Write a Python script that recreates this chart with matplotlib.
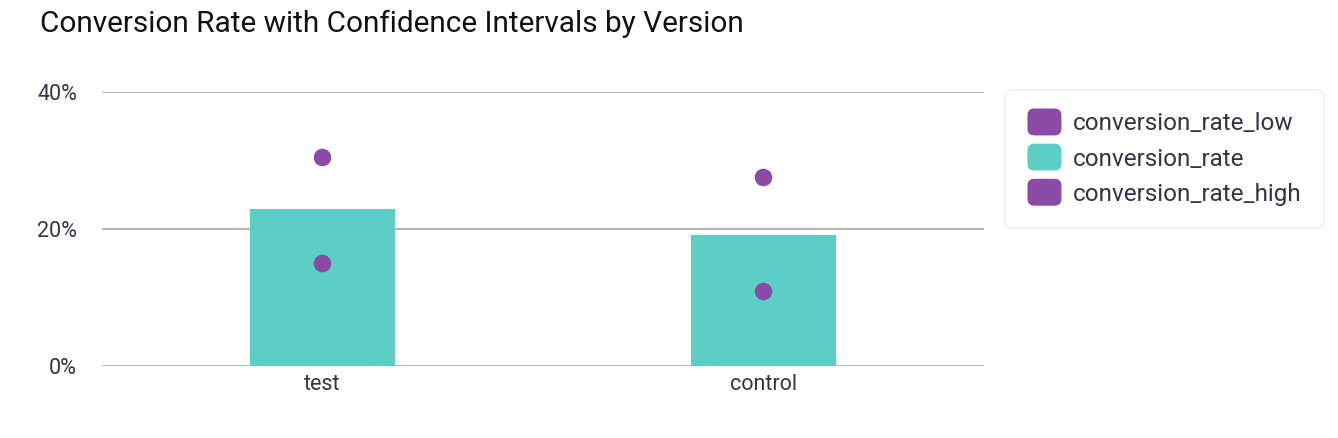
import matplotlib
matplotlib.use("Agg")
import matplotlib.pyplot as plt
from matplotlib.patches import FancyBboxPatch, Patch
from matplotlib.legend_handler import HandlerPatch
from matplotlib.ticker import PercentFormatter

# data
versions = ["test", "control"]
conversion_rate = [0.229, 0.191]
conversion_rate_low = [0.150, 0.109]
conversion_rate_high = [0.305, 0.276]
y_ticks = [0, 0.2, 0.4]

teal = "#5ccec5"
purple = "#8a4aa6"
text_col = "#33334a"

plt.rcParams["font.family"] = ["Roboto", "DejaVu Sans"]


class HandlerRounded(HandlerPatch):
    def create_artists(self, legend, orig_handle, xdescent, ydescent,
                       width, height, fontsize, trans):
        p = FancyBboxPatch((-xdescent, -ydescent - 3), width, height + 6,
                           boxstyle="round,pad=0,rounding_size=5",
                           facecolor=orig_handle.get_facecolor(),
                           edgecolor="none", transform=trans)
        return [p]


fig = plt.figure(figsize=(13.38, 4.38), dpi=100)
ax = fig.add_axes([0.0762, 0.1644, 0.6592, 0.6256])

x = range(len(versions))
# lineas de referencia detras de las barras
for yt in y_ticks:
    ax.axhline(yt, color="#b6b6b6", linewidth=1.5, zorder=0)
ax.bar(x, conversion_rate, width=0.33, color=teal, zorder=2)
ax.scatter(x, conversion_rate_low, s=135, color=purple, zorder=3)
ax.scatter(x, conversion_rate_high, s=135, color=purple, zorder=3)

ax.set_xlim(-0.5, 1.5)
ax.set_ylim(0, 0.4)
ax.set_yticks(y_ticks)
ax.yaxis.set_major_formatter(PercentFormatter(1.0, decimals=0))
ax.set_xticks(list(x))
ax.set_xticklabels(versions)
for s in ax.spines.values():
    s.set_visible(False)
ax.tick_params(length=0, labelsize=15.5, colors=text_col)
ax.tick_params(axis="y", pad=18)
ax.tick_params(axis="x", pad=6)

fig.text(0.030, 0.945, "Conversion Rate with Confidence Intervals by Version",
         fontsize=21.4, color="#111111", va="center", ha="left")

handles = [Patch(facecolor=purple), Patch(facecolor=teal), Patch(facecolor=purple)]
labels = ["conversion_rate_low", "conversion_rate", "conversion_rate_high"]
leg = fig.legend(handles, labels, loc="upper left", bbox_to_anchor=(0.751, 0.795),
                 fontsize=17.5, frameon=True, handlelength=1.4, handleheight=0.8,
                 handletextpad=0.45, labelspacing=0.5, borderpad=0.93,
                 borderaxespad=0,
                 handler_map={Patch: HandlerRounded()})
for t in leg.get_texts():
    t.set_color(text_col)
fr = leg.get_frame()
fr.set_edgecolor("#ececf0")
fr.set_linewidth(1.2)
fr.set_boxstyle("round,pad=0,rounding_size=0.3")

fig.savefig("out.png", dpi=100)
